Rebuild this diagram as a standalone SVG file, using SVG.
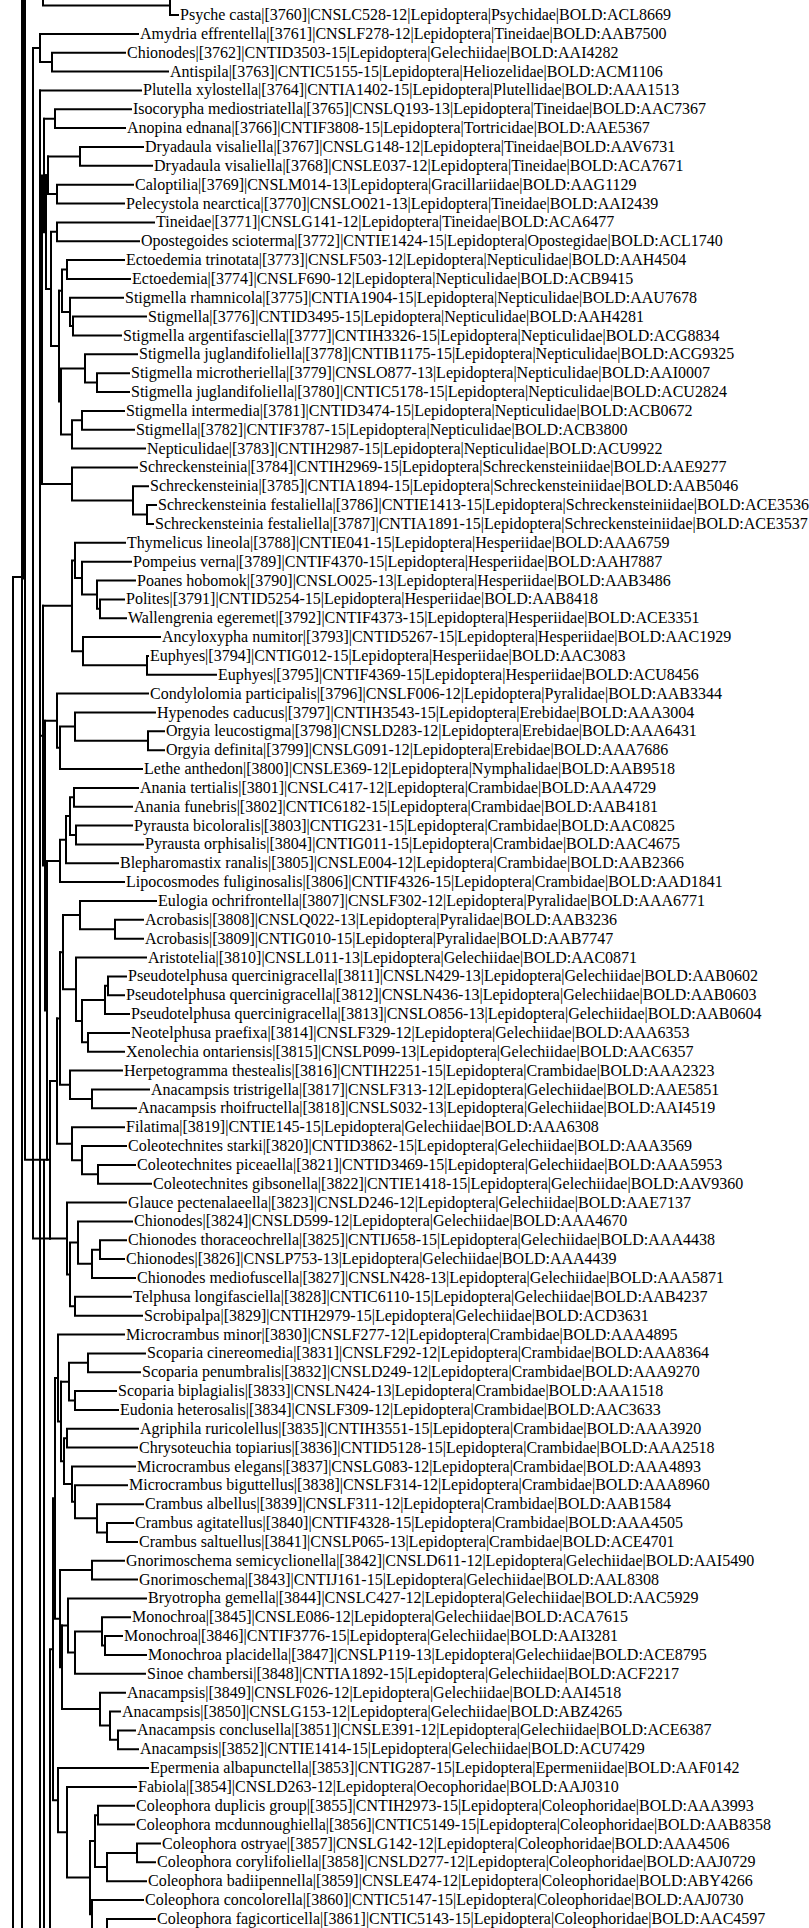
<svg xmlns="http://www.w3.org/2000/svg" width="809" height="1928" viewBox="0 0 809 1928">
<style>
.b{fill:none;stroke:#000;stroke-width:2;stroke-linecap:square}
text{font-family:"Liberation Serif","Times New Roman",serif;font-size:16px;fill:#000}
</style>
<rect width="809" height="1928" fill="#fff"/>
<g id="connectors" class="b">
<path d="M13,577V1928M13,577H22M22,0V1928M25,0V1159.8M25,1159.8H47M33,48V1238.5M33,1238.5H50M40,90.4V1928M44,1159.8V1928"/>
<path d="M23.5,0V577" stroke-width="5"/>
<path d="M170,-3.9V15M43,0V5.6M43,5.6H170M170,15H178"/>
<path d="M40,33.9V62.1M33,48H40M40,33.9H138M40,62.1H52M52,52.7V71.6M52,52.7H125M52,71.6H168M40,90.4H141"/>
<path d="M55,109.3V128.1M55,109.3H131M55,128.1H125M44,118.7H55"/>
<path d="M80,147V165.8M80,147H143M80,165.8H152M48,156.4H80"/>
<path d="M57,184.7V203.5M57,184.7H133M57,203.5H124M48,194.1H57M48,156.4V194.1M46,175.3H48"/>
<path d="M57,222.4V241.2M57,222.4H154M57,241.2H139M51,231.8H57M51,231.8V346.1M46,289H51M46,175.3V289M44,232.2H46M44,118.7V232.2M42,175.4H44M42,175.4V483.9M40,329.7H42"/>
<path d="M67,260.1V278.9M67,260.1H124M67,278.9H130M62,269.5H67M73,316.6V335.5M73,316.6H146M73,335.5H121M70,326H73M70,297.8V326M70,297.8H123M62,311.9H70M62,269.5V311.9M59,290.7H62"/>
<path d="M97,373.2V392M97,373.2H129M97,392H129M85,382.6H97M85,354.3V382.6M85,354.3H137M61,368.4H85M82,410.9V429.7M82,410.9H124M82,429.7H134M72,420.3H82M72,420.3V448.6M72,448.6H145M61,434.4H72M61,368.4V434.4M59,401.4H61M59,290.7V401.4M51,346.1H59"/>
<path d="M147,505.1V524M147,505.1H156M147,524H153M133,514.5H147M133,486.3V514.5M133,486.3H148M72,500.4H133M72,467.4V500.4M72,467.4H137M42,483.9H72"/>
<path d="M100,599.4V618.2M100,599.4H124M100,618.2H126M97,608.8H100M97,580.5V608.8M97,580.5H135M82,594.6H97M82,561.7V594.6M82,561.7H131M75,578.1H82M75,542.8V578.1M75,542.8H125M72,560.5H75M147,655.9V674.8M147,655.9H148M147,674.8H216M83,665.3H147M83,637.1V665.3M83,637.1H160M72,651.2H83M72,560.5V651.2M43,605.8H72"/>
<path d="M148,731.3V750.2M148,731.3H164M148,750.2H164M75,740.7H148M75,712.5V740.7M75,712.5H155M60,726.6H75M60,726.6V769M60,769H142M57,747.8H60M57,693.6V747.8M57,693.6H148M45,720.7H57"/>
<path d="M74,787.9V806.7M74,787.9H138M74,806.7H132M70,797.3H74M76,825.6V844.4M76,825.6H132M76,844.4H143M70,835H76M70,797.3V835M66,816.1H70M66,816.1V863.3M66,863.3H118M60,839.7H66M60,839.7V882.1M60,882.1H124M47,860.9H60"/>
<path d="M115,919.8V938.7M115,919.8H143M115,938.7H143M80,929.2H115M80,901V929.2M80,901H156M63,915.1H80M108,976.4V995.2M108,976.4H126M108,995.2H124M105,985.8H108M105,985.8V1014.1M105,1014.1H129M82,999.9H105M88,1032.9V1051.8M88,1032.9H129M88,1051.8H124M82,1042.3H88M82,999.9V1042.3M76,1021.1H82M76,957.5V1021.1M76,957.5H146M63,989.3H76M63,915.1V989.3M60,952.2H63"/>
<path d="M92,1089.5V1108.3M92,1089.5H149M92,1108.3H136M70,1098.9H92M70,1070.6V1098.9M70,1070.6H122M60,1084.8H70M60,952.2V1084.8M57,1018.5H60"/>
<path d="M98,1164.9V1183.7M98,1164.9H135M98,1183.7H151M82,1174.3H98M82,1146V1174.3M82,1146H126M72,1160.2H82M72,1127.2V1160.2M72,1127.2H124M57,1143.7H72M57,1018.5V1143.7M50,1081.1H57"/>
<path d="M100,1240.3V1259.1M100,1240.3H126M100,1259.1H124M92,1249.7H100M92,1249.7V1278M92,1278H135M78,1263.8H92M78,1221.4V1263.8M78,1221.4H132M70,1242.6H78M75,1296.8V1315.7M75,1296.8H131M75,1315.7H142M70,1306.2H75M70,1242.6V1306.2M67,1274.4H70M67,1202.6V1274.4M67,1202.6H126M50,1238.5H67"/>
<path d="M50,1081.1V1238.5M47,1159.8H50M47,860.9V1159.8M45,1010.4H47M45,720.7V1010.4M43,865.6H45M43,605.8V865.6M40,735.7H43"/>
<path d="M88,1353.4V1372.2M88,1353.4H145M88,1372.2H140M69,1362.8H88M75,1391.1V1409.9M75,1391.1H116M75,1409.9H118M69,1400.5H75M69,1362.8V1400.5M61,1381.7H69"/>
<path d="M67,1428.8V1447.6M67,1428.8H138M67,1447.6H137M64,1438.2H67M107,1523V1541.9M107,1523H133M107,1541.9H137M97,1532.4H107M97,1504.2V1532.4M97,1504.2H143M75,1518.3H97M75,1485.3V1518.3M75,1485.3H127M72,1501.8H75M72,1466.5V1501.8M72,1466.5H135M64,1484.1H72M64,1438.2V1484.1M61,1461.2H64M61,1381.7V1461.2M58,1421.5H61M58,1334.5V1421.5M58,1334.5H124M55,1378H58"/>
<path d="M92,1560.7V1579.6M92,1560.7H124M92,1579.6H137M60,1570.1H92M105,1636.1V1655M105,1636.1H122M105,1655H146M102,1645.5H105M102,1617.3V1645.5M102,1617.3H130M75,1631.4H102M75,1631.4V1673.8M75,1673.8H145M68,1652.6H75M68,1598.4V1652.6M68,1598.4H146M62,1625.5H68"/>
<path d="M118,1730.4V1749.2M118,1730.4H135M118,1749.2H138M110,1739.8H118M110,1711.5V1739.8M110,1711.5H120M100,1725.6H110M100,1692.7V1725.6M100,1692.7H125M62,1709.1H100M62,1625.5V1709.1M60,1667.3H62M60,1570.1V1667.3M55,1618.7H60M55,1378V1618.7M53,1498.4H55"/>
<path d="M98,1805.8V1824.6M98,1805.8H134M98,1824.6H134M95,1815.2H98M137,1843.5V1862.3M137,1843.5H160M137,1862.3H155M107,1852.9H137M107,1852.9V1881.2M107,1881.2H146M95,1867H107M95,1815.2V1867M90,1841.1H95M107,1918.9V1930M107,1918.9H155M92,1900V1930M92,1900H143M90,1914.2H92M90,1841.1V1914.2M67,1877.6H90M67,1786.9V1877.6M67,1786.9H136M58,1832.3H67M58,1768.1V1832.3M58,1768.1H148M53,1800.2H58M53,1498.4V1800.2M50,1649.3H53M50,1649.3V1928"/>
</g>
<g id="leaf-3760"><text x="180" y="20">Psyche casta|[3760]|CNSLC528-12|Lepidoptera|Psychidae|BOLD:ACL8669</text></g>
<g id="leaf-3761"><text x="140" y="38.9">Amydria effrentella|[3761]|CNSLF278-12|Lepidoptera|Tineidae|BOLD:AAB7500</text></g>
<g id="leaf-3762"><text x="127" y="57.7">Chionodes|[3762]|CNTID3503-15|Lepidoptera|Gelechiidae|BOLD:AAI4282</text></g>
<g id="leaf-3763"><text x="170" y="76.6">Antispila|[3763]|CNTIC5155-15|Lepidoptera|Heliozelidae|BOLD:ACM1106</text></g>
<g id="leaf-3764"><text x="143" y="95.4">Plutella xylostella|[3764]|CNTIA1402-15|Lepidoptera|Plutellidae|BOLD:AAA1513</text></g>
<g id="leaf-3765"><text x="133" y="114.3">Isocorypha mediostriatella|[3765]|CNSLQ193-13|Lepidoptera|Tineidae|BOLD:AAC7367</text></g>
<g id="leaf-3766"><text x="127" y="133.1">Anopina ednana|[3766]|CNTIF3808-15|Lepidoptera|Tortricidae|BOLD:AAE5367</text></g>
<g id="leaf-3767"><text x="145" y="152">Dryadaula visaliella|[3767]|CNSLG148-12|Lepidoptera|Tineidae|BOLD:AAV6731</text></g>
<g id="leaf-3768"><text x="154" y="170.8">Dryadaula visaliella|[3768]|CNSLE037-12|Lepidoptera|Tineidae|BOLD:ACA7671</text></g>
<g id="leaf-3769"><text x="135" y="189.7">Caloptilia|[3769]|CNSLM014-13|Lepidoptera|Gracillariidae|BOLD:AAG1129</text></g>
<g id="leaf-3770"><text x="126" y="208.5">Pelecystola nearctica|[3770]|CNSLO021-13|Lepidoptera|Tineidae|BOLD:AAI2439</text></g>
<g id="leaf-3771"><text x="156" y="227.4">Tineidae|[3771]|CNSLG141-12|Lepidoptera|Tineidae|BOLD:ACA6477</text></g>
<g id="leaf-3772"><text x="141" y="246.2">Opostegoides scioterma|[3772]|CNTIE1424-15|Lepidoptera|Opostegidae|BOLD:ACL1740</text></g>
<g id="leaf-3773"><text x="126" y="265.1">Ectoedemia trinotata|[3773]|CNSLF503-12|Lepidoptera|Nepticulidae|BOLD:AAH4504</text></g>
<g id="leaf-3774"><text x="132" y="283.9">Ectoedemia|[3774]|CNSLF690-12|Lepidoptera|Nepticulidae|BOLD:ACB9415</text></g>
<g id="leaf-3775"><text x="125" y="302.8">Stigmella rhamnicola|[3775]|CNTIA1904-15|Lepidoptera|Nepticulidae|BOLD:AAU7678</text></g>
<g id="leaf-3776"><text x="148" y="321.6">Stigmella|[3776]|CNTID3495-15|Lepidoptera|Nepticulidae|BOLD:AAH4281</text></g>
<g id="leaf-3777"><text x="123" y="340.5">Stigmella argentifasciella|[3777]|CNTIH3326-15|Lepidoptera|Nepticulidae|BOLD:ACG8834</text></g>
<g id="leaf-3778"><text x="139" y="359.3">Stigmella juglandifoliella|[3778]|CNTIB1175-15|Lepidoptera|Nepticulidae|BOLD:ACG9325</text></g>
<g id="leaf-3779"><text x="131" y="378.2">Stigmella microtheriella|[3779]|CNSLO877-13|Lepidoptera|Nepticulidae|BOLD:AAI0007</text></g>
<g id="leaf-3780"><text x="131" y="397">Stigmella juglandifoliella|[3780]|CNTIC5178-15|Lepidoptera|Nepticulidae|BOLD:ACU2824</text></g>
<g id="leaf-3781"><text x="126" y="415.9">Stigmella intermedia|[3781]|CNTID3474-15|Lepidoptera|Nepticulidae|BOLD:ACB0672</text></g>
<g id="leaf-3782"><text x="136" y="434.7">Stigmella|[3782]|CNTIF3787-15|Lepidoptera|Nepticulidae|BOLD:ACB3800</text></g>
<g id="leaf-3783"><text x="147" y="453.6">Nepticulidae|[3783]|CNTIH2987-15|Lepidoptera|Nepticulidae|BOLD:ACU9922</text></g>
<g id="leaf-3784"><text x="139" y="472.4">Schreckensteinia|[3784]|CNTIH2969-15|Lepidoptera|Schreckensteiniidae|BOLD:AAE9277</text></g>
<g id="leaf-3785"><text x="150" y="491.3">Schreckensteinia|[3785]|CNTIA1894-15|Lepidoptera|Schreckensteiniidae|BOLD:AAB5046</text></g>
<g id="leaf-3786"><text x="158" y="510.1">Schreckensteinia festaliella|[3786]|CNTIE1413-15|Lepidoptera|Schreckensteiniidae|BOLD:ACE3536</text></g>
<g id="leaf-3787"><text x="155" y="529">Schreckensteinia festaliella|[3787]|CNTIA1891-15|Lepidoptera|Schreckensteiniidae|BOLD:ACE3537</text></g>
<g id="leaf-3788"><text x="127" y="547.8">Thymelicus lineola|[3788]|CNTIE041-15|Lepidoptera|Hesperiidae|BOLD:AAA6759</text></g>
<g id="leaf-3789"><text x="133" y="566.7">Pompeius verna|[3789]|CNTIF4370-15|Lepidoptera|Hesperiidae|BOLD:AAH7887</text></g>
<g id="leaf-3790"><text x="137" y="585.5">Poanes hobomok|[3790]|CNSLO025-13|Lepidoptera|Hesperiidae|BOLD:AAB3486</text></g>
<g id="leaf-3791"><text x="126" y="604.4">Polites|[3791]|CNTID5254-15|Lepidoptera|Hesperiidae|BOLD:AAB8418</text></g>
<g id="leaf-3792"><text x="128" y="623.2">Wallengrenia egeremet|[3792]|CNTIF4373-15|Lepidoptera|Hesperiidae|BOLD:ACE3351</text></g>
<g id="leaf-3793"><text x="162" y="642.1">Ancyloxypha numitor|[3793]|CNTID5267-15|Lepidoptera|Hesperiidae|BOLD:AAC1929</text></g>
<g id="leaf-3794"><text x="150" y="660.9">Euphyes|[3794]|CNTIG012-15|Lepidoptera|Hesperiidae|BOLD:AAC3083</text></g>
<g id="leaf-3795"><text x="218" y="679.8">Euphyes|[3795]|CNTIF4369-15|Lepidoptera|Hesperiidae|BOLD:ACU8456</text></g>
<g id="leaf-3796"><text x="150" y="698.6">Condylolomia participalis|[3796]|CNSLF006-12|Lepidoptera|Pyralidae|BOLD:AAB3344</text></g>
<g id="leaf-3797"><text x="157" y="717.5">Hypenodes caducus|[3797]|CNTIH3543-15|Lepidoptera|Erebidae|BOLD:AAA3004</text></g>
<g id="leaf-3798"><text x="166" y="736.3">Orgyia leucostigma|[3798]|CNSLD283-12|Lepidoptera|Erebidae|BOLD:AAA6431</text></g>
<g id="leaf-3799"><text x="166" y="755.2">Orgyia definita|[3799]|CNSLG091-12|Lepidoptera|Erebidae|BOLD:AAA7686</text></g>
<g id="leaf-3800"><text x="144" y="774">Lethe anthedon|[3800]|CNSLE369-12|Lepidoptera|Nymphalidae|BOLD:AAB9518</text></g>
<g id="leaf-3801"><text x="140" y="792.9">Anania tertialis|[3801]|CNSLC417-12|Lepidoptera|Crambidae|BOLD:AAA4729</text></g>
<g id="leaf-3802"><text x="134" y="811.7">Anania funebris|[3802]|CNTIC6182-15|Lepidoptera|Crambidae|BOLD:AAB4181</text></g>
<g id="leaf-3803"><text x="134" y="830.6">Pyrausta bicoloralis|[3803]|CNTIG231-15|Lepidoptera|Crambidae|BOLD:AAC0825</text></g>
<g id="leaf-3804"><text x="145" y="849.4">Pyrausta orphisalis|[3804]|CNTIG011-15|Lepidoptera|Crambidae|BOLD:AAC4675</text></g>
<g id="leaf-3805"><text x="120" y="868.3">Blepharomastix ranalis|[3805]|CNSLE004-12|Lepidoptera|Crambidae|BOLD:AAB2366</text></g>
<g id="leaf-3806"><text x="126" y="887.1">Lipocosmodes fuliginosalis|[3806]|CNTIF4326-15|Lepidoptera|Crambidae|BOLD:AAD1841</text></g>
<g id="leaf-3807"><text x="158" y="906">Eulogia ochrifrontella|[3807]|CNSLF302-12|Lepidoptera|Pyralidae|BOLD:AAA6771</text></g>
<g id="leaf-3808"><text x="145" y="924.8">Acrobasis|[3808]|CNSLQ022-13|Lepidoptera|Pyralidae|BOLD:AAB3236</text></g>
<g id="leaf-3809"><text x="145" y="943.7">Acrobasis|[3809]|CNTIG010-15|Lepidoptera|Pyralidae|BOLD:AAB7747</text></g>
<g id="leaf-3810"><text x="148" y="962.5">Aristotelia|[3810]|CNSLL011-13|Lepidoptera|Gelechiidae|BOLD:AAC0871</text></g>
<g id="leaf-3811"><text x="128" y="981.4">Pseudotelphusa quercinigracella|[3811]|CNSLN429-13|Lepidoptera|Gelechiidae|BOLD:AAB0602</text></g>
<g id="leaf-3812"><text x="126" y="1000.2">Pseudotelphusa quercinigracella|[3812]|CNSLN436-13|Lepidoptera|Gelechiidae|BOLD:AAB0603</text></g>
<g id="leaf-3813"><text x="131" y="1019.1">Pseudotelphusa quercinigracella|[3813]|CNSLO856-13|Lepidoptera|Gelechiidae|BOLD:AAB0604</text></g>
<g id="leaf-3814"><text x="131" y="1037.9">Neotelphusa praefixa|[3814]|CNSLF329-12|Lepidoptera|Gelechiidae|BOLD:AAA6353</text></g>
<g id="leaf-3815"><text x="126" y="1056.8">Xenolechia ontariensis|[3815]|CNSLP099-13|Lepidoptera|Gelechiidae|BOLD:AAC6357</text></g>
<g id="leaf-3816"><text x="124" y="1075.6">Herpetogramma thestealis|[3816]|CNTIH2251-15|Lepidoptera|Crambidae|BOLD:AAA2323</text></g>
<g id="leaf-3817"><text x="151" y="1094.5">Anacampsis tristrigella|[3817]|CNSLF313-12|Lepidoptera|Gelechiidae|BOLD:AAE5851</text></g>
<g id="leaf-3818"><text x="138" y="1113.3">Anacampsis rhoifructella|[3818]|CNSLS032-13|Lepidoptera|Gelechiidae|BOLD:AAI4519</text></g>
<g id="leaf-3819"><text x="126" y="1132.2">Filatima|[3819]|CNTIE145-15|Lepidoptera|Gelechiidae|BOLD:AAA6308</text></g>
<g id="leaf-3820"><text x="128" y="1151">Coleotechnites starki|[3820]|CNTID3862-15|Lepidoptera|Gelechiidae|BOLD:AAA3569</text></g>
<g id="leaf-3821"><text x="137" y="1169.9">Coleotechnites piceaella|[3821]|CNTID3469-15|Lepidoptera|Gelechiidae|BOLD:AAA5953</text></g>
<g id="leaf-3822"><text x="153" y="1188.7">Coleotechnites gibsonella|[3822]|CNTIE1418-15|Lepidoptera|Gelechiidae|BOLD:AAV9360</text></g>
<g id="leaf-3823"><text x="128" y="1207.6">Glauce pectenalaeella|[3823]|CNSLD246-12|Lepidoptera|Gelechiidae|BOLD:AAE7137</text></g>
<g id="leaf-3824"><text x="134" y="1226.4">Chionodes|[3824]|CNSLD599-12|Lepidoptera|Gelechiidae|BOLD:AAA4670</text></g>
<g id="leaf-3825"><text x="128" y="1245.3">Chionodes thoraceochrella|[3825]|CNTIJ658-15|Lepidoptera|Gelechiidae|BOLD:AAA4438</text></g>
<g id="leaf-3826"><text x="126" y="1264.1">Chionodes|[3826]|CNSLP753-13|Lepidoptera|Gelechiidae|BOLD:AAA4439</text></g>
<g id="leaf-3827"><text x="137" y="1283">Chionodes mediofuscella|[3827]|CNSLN428-13|Lepidoptera|Gelechiidae|BOLD:AAA5871</text></g>
<g id="leaf-3828"><text x="133" y="1301.8">Telphusa longifasciella|[3828]|CNTIC6110-15|Lepidoptera|Gelechiidae|BOLD:AAB4237</text></g>
<g id="leaf-3829"><text x="144" y="1320.7">Scrobipalpa|[3829]|CNTIH2979-15|Lepidoptera|Gelechiidae|BOLD:ACD3631</text></g>
<g id="leaf-3830"><text x="126" y="1339.5">Microcrambus minor|[3830]|CNSLF277-12|Lepidoptera|Crambidae|BOLD:AAA4895</text></g>
<g id="leaf-3831"><text x="147" y="1358.4">Scoparia cinereomedia|[3831]|CNSLF292-12|Lepidoptera|Crambidae|BOLD:AAA8364</text></g>
<g id="leaf-3832"><text x="142" y="1377.2">Scoparia penumbralis|[3832]|CNSLD249-12|Lepidoptera|Crambidae|BOLD:AAA9270</text></g>
<g id="leaf-3833"><text x="118" y="1396.1">Scoparia biplagialis|[3833]|CNSLN424-13|Lepidoptera|Crambidae|BOLD:AAA1518</text></g>
<g id="leaf-3834"><text x="120" y="1414.9">Eudonia heterosalis|[3834]|CNSLF309-12|Lepidoptera|Crambidae|BOLD:AAC3633</text></g>
<g id="leaf-3835"><text x="140" y="1433.8">Agriphila ruricolellus|[3835]|CNTIH3551-15|Lepidoptera|Crambidae|BOLD:AAA3920</text></g>
<g id="leaf-3836"><text x="139" y="1452.6">Chrysoteuchia topiarius|[3836]|CNTID5128-15|Lepidoptera|Crambidae|BOLD:AAA2518</text></g>
<g id="leaf-3837"><text x="137" y="1471.5">Microcrambus elegans|[3837]|CNSLG083-12|Lepidoptera|Crambidae|BOLD:AAA4893</text></g>
<g id="leaf-3838"><text x="129" y="1490.3">Microcrambus biguttellus|[3838]|CNSLF314-12|Lepidoptera|Crambidae|BOLD:AAA8960</text></g>
<g id="leaf-3839"><text x="145" y="1509.2">Crambus albellus|[3839]|CNSLF311-12|Lepidoptera|Crambidae|BOLD:AAB1584</text></g>
<g id="leaf-3840"><text x="135" y="1528">Crambus agitatellus|[3840]|CNTIF4328-15|Lepidoptera|Crambidae|BOLD:AAA4505</text></g>
<g id="leaf-3841"><text x="139" y="1546.9">Crambus saltuellus|[3841]|CNSLP065-13|Lepidoptera|Crambidae|BOLD:ACE4701</text></g>
<g id="leaf-3842"><text x="126" y="1565.7">Gnorimoschema semicyclionella|[3842]|CNSLD611-12|Lepidoptera|Gelechiidae|BOLD:AAI5490</text></g>
<g id="leaf-3843"><text x="139" y="1584.6">Gnorimoschema|[3843]|CNTIJ161-15|Lepidoptera|Gelechiidae|BOLD:AAL8308</text></g>
<g id="leaf-3844"><text x="148" y="1603.4">Bryotropha gemella|[3844]|CNSLC427-12|Lepidoptera|Gelechiidae|BOLD:AAC5929</text></g>
<g id="leaf-3845"><text x="132" y="1622.3">Monochroa|[3845]|CNSLE086-12|Lepidoptera|Gelechiidae|BOLD:ACA7615</text></g>
<g id="leaf-3846"><text x="124" y="1641.1">Monochroa|[3846]|CNTIF3776-15|Lepidoptera|Gelechiidae|BOLD:AAI3281</text></g>
<g id="leaf-3847"><text x="148" y="1660">Monochroa placidella|[3847]|CNSLP119-13|Lepidoptera|Gelechiidae|BOLD:ACE8795</text></g>
<g id="leaf-3848"><text x="147" y="1678.8">Sinoe chambersi|[3848]|CNTIA1892-15|Lepidoptera|Gelechiidae|BOLD:ACF2217</text></g>
<g id="leaf-3849"><text x="127" y="1697.7">Anacampsis|[3849]|CNSLF026-12|Lepidoptera|Gelechiidae|BOLD:AAI4518</text></g>
<g id="leaf-3850"><text x="122" y="1716.5">Anacampsis|[3850]|CNSLG153-12|Lepidoptera|Gelechiidae|BOLD:ABZ4265</text></g>
<g id="leaf-3851"><text x="137" y="1735.4">Anacampsis conclusella|[3851]|CNSLE391-12|Lepidoptera|Gelechiidae|BOLD:ACE6387</text></g>
<g id="leaf-3852"><text x="140" y="1754.2">Anacampsis|[3852]|CNTIE1414-15|Lepidoptera|Gelechiidae|BOLD:ACU7429</text></g>
<g id="leaf-3853"><text x="150" y="1773.1">Epermenia albapunctella|[3853]|CNTIG287-15|Lepidoptera|Epermeniidae|BOLD:AAF0142</text></g>
<g id="leaf-3854"><text x="138" y="1791.9">Fabiola|[3854]|CNSLD263-12|Lepidoptera|Oecophoridae|BOLD:AAJ0310</text></g>
<g id="leaf-3855"><text x="136" y="1810.8">Coleophora duplicis group|[3855]|CNTIH2973-15|Lepidoptera|Coleophoridae|BOLD:AAA3993</text></g>
<g id="leaf-3856"><text x="136" y="1829.6">Coleophora mcdunnoughiella|[3856]|CNTIC5149-15|Lepidoptera|Coleophoridae|BOLD:AAB8358</text></g>
<g id="leaf-3857"><text x="162" y="1848.5">Coleophora ostryae|[3857]|CNSLG142-12|Lepidoptera|Coleophoridae|BOLD:AAA4506</text></g>
<g id="leaf-3858"><text x="157" y="1867.3">Coleophora corylifoliella|[3858]|CNSLD277-12|Lepidoptera|Coleophoridae|BOLD:AAJ0729</text></g>
<g id="leaf-3859"><text x="148" y="1886.2">Coleophora badiipennella|[3859]|CNSLE474-12|Lepidoptera|Coleophoridae|BOLD:ABY4266</text></g>
<g id="leaf-3860"><text x="145" y="1905">Coleophora concolorella|[3860]|CNTIC5147-15|Lepidoptera|Coleophoridae|BOLD:AAJ0730</text></g>
<g id="leaf-3861"><text x="157" y="1923.9">Coleophora fagicorticella|[3861]|CNTIC5143-15|Lepidoptera|Coleophoridae|BOLD:AAC4597</text></g>
</svg>
